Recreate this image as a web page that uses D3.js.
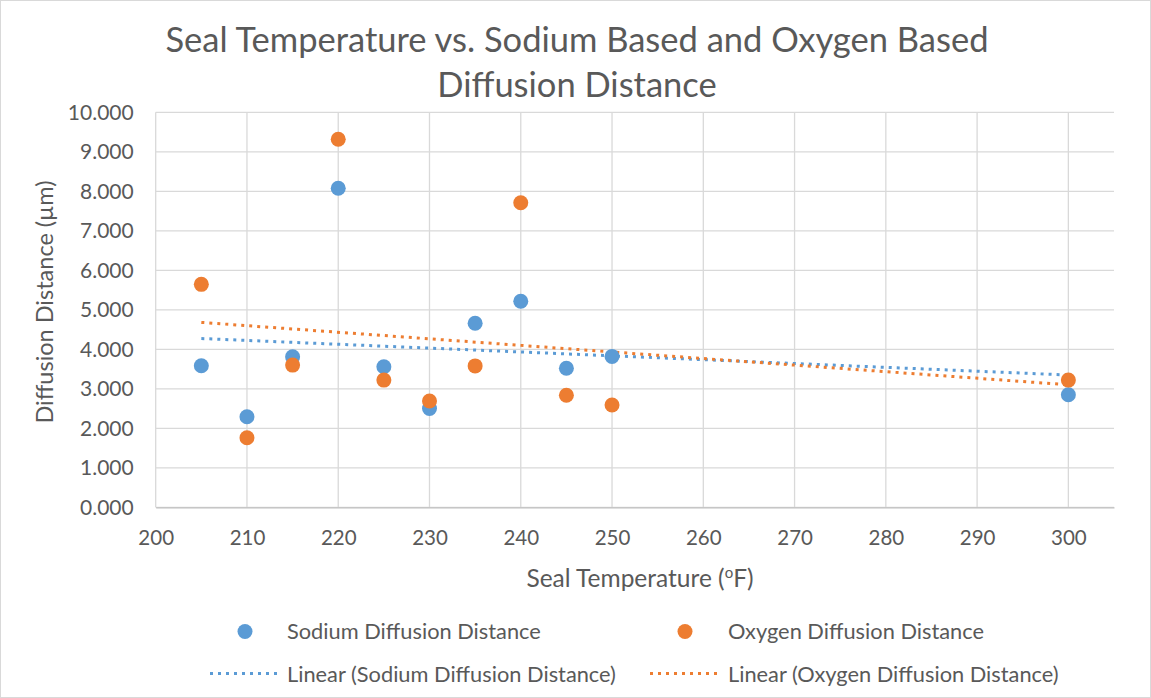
<!DOCTYPE html>
<html><head><meta charset="utf-8">
<script src="https://cdn.jsdelivr.net/npm/d3@7/dist/d3.min.js"></script>
<style>body{margin:0;background:#fff}svg{display:block}text{font-family:Lato,"Open Sans",sans-serif;fill:#595959}</style>
</head><body><svg id="c" width="1151" height="698"></svg>
<script>
const temperatures = [205, 210, 215, 220, 225, 230, 235, 240, 245, 250, 300];
const sodium = [3.585, 2.294, 3.81, 8.076, 3.56, 2.50, 4.66, 5.215, 3.52, 3.82, 2.85];
const oxygen = [5.645, 1.762, 3.60, 9.316, 3.22, 2.69, 3.58, 7.71, 2.835, 2.59, 3.22];
const xTicks = [200, 210, 220, 230, 240, 250, 260, 270, 280, 290, 300];
const yTicks = [0, 1, 2, 3, 4, 5, 6, 7, 8, 9, 10];
const seriesNames = ["Sodium Diffusion Distance", "Oxygen Diffusion Distance"];
const colors = ["#5B9BD5", "#ED7D31"];

const svg = d3.select("#c");
svg.append("rect").attr("x",0.5).attr("y",0.5).attr("width",1150).attr("height",697).attr("fill","#fff").attr("stroke","#d9d9d9");

const x = d3.scaleLinear().domain([200, 305]).range([155.7, 1114]);
const y = d3.scaleLinear().domain([0, 10]).range([507.3, 112.3]);
const g = svg.append("g");

// gridlines
g.selectAll(".vg").data(xTicks).join("line")
  .attr("x1", d => x(d)).attr("x2", d => x(d)).attr("y1", y(10)).attr("y2", y(0))
  .attr("stroke", "#d9d9d9").attr("stroke-width", 1.3);
g.selectAll(".hg").data(yTicks).join("line")
  .attr("x1", x(200)).attr("x2", x(305)).attr("y1", d => y(d)).attr("y2", d => y(d))
  .attr("stroke", "#d9d9d9").attr("stroke-width", 1.3);

// axes with d3
const xAxis = d3.axisBottom(x).tickValues(xTicks).tickSize(0).tickPadding(23).tickFormat(d3.format("d"));
const xa = g.append("g").attr("transform", `translate(0,${y(0)})`).call(xAxis);
xa.select(".domain").attr("stroke", "#bfbfbf").attr("stroke-width", 1.3);
xa.selectAll("text").style("font-size", "20.5px").style("fill","#595959").style("font-family","Lato");

const yAxis = d3.axisLeft(y).tickValues(yTicks).tickSize(0).tickPadding(22).tickFormat(d3.format(".3f"));
const ya = g.append("g").attr("transform", `translate(${x(200)},0)`).call(yAxis);
ya.select(".domain").remove();
ya.selectAll("text").style("font-size", "21px").style("fill","#595959").style("font-family","Lato");

// trendlines
function fit(xs, ys) {
  const n = xs.length, mx = d3.mean(xs), my = d3.mean(ys);
  let sxy = 0, sxx = 0;
  for (let i = 0; i < n; i++) { sxy += (xs[i]-mx)*(ys[i]-my); sxx += (xs[i]-mx)**2; }
  const b = sxy / sxx; return [b, my - b*mx];
}
const ext = d3.extent(temperatures);
[sodium, oxygen].forEach((s, i) => {
  const [b, a] = fit(temperatures, s);
  g.append("line").attr("x1", x(ext[0])).attr("x2", x(ext[1]))
    .attr("y1", y(a + b*ext[0])).attr("y2", y(a + b*ext[1]))
    .attr("stroke", colors[i]).attr("stroke-width", 3).attr("stroke-dasharray", "3 5");
});

// points
[sodium, oxygen].forEach((s, i) => {
  g.selectAll(".p"+i).data(temperatures.map((t, j) => [t, s[j]])).join("circle")
    .attr("cx", d => x(d[0])).attr("cy", d => y(d[1])).attr("r", 7.5).attr("fill", colors[i]);
});

// title
const title = svg.append("text").attr("text-anchor", "middle").style("font-size", "34.5px");
title.append("tspan").attr("x", 577).attr("y", 52).text("Seal Temperature vs. Sodium Based and Oxygen Based");
title.append("tspan").attr("x", 577).attr("y", 97).text("Diffusion Distance");

// axis titles
svg.append("text").attr("transform", `translate(53,302) rotate(-90)`)
  .attr("text-anchor", "middle").style("font-size", "23.5px").text("Diffusion Distance (µm)");
const xt = svg.append("text").attr("x", 640).attr("y", 587).attr("text-anchor", "middle").style("font-size", "24.5px");
xt.append("tspan").text("Seal Temperature (");
xt.append("tspan").attr("dy", -9).style("font-size", "15px").text("o");
xt.append("tspan").attr("dy", 9).text("F)");

// legend
const leg = svg.append("g");
const lx = [245, 685];
const tx = [287, 728];
seriesNames.forEach((n, i) => {
  leg.append("circle").attr("cx", lx[i]).attr("cy", 631.5).attr("r", 7.5).attr("fill", colors[i]);
  leg.append("text").attr("x", tx[i]).attr("y", 638.5).style("font-size", "21.8px").text(n);
  leg.append("line").attr("x1", lx[i]-35).attr("x2", lx[i]+32).attr("y1", 673.5).attr("y2", 673.5)
    .attr("stroke", colors[i]).attr("stroke-width", 3).attr("stroke-dasharray", "3 5");
  leg.append("text").attr("x", tx[i]).attr("y", 681.5).style("font-size", "21.8px").text("Linear (" + n + ")");
});
</script></body></html>
